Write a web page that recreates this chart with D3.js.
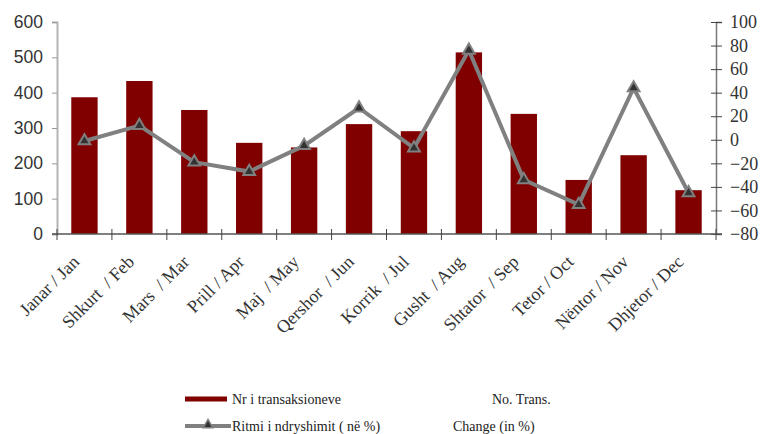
<!DOCTYPE html>
<html lang="sq">
<head>
<meta charset="UTF-8">
<title>Transaksione</title>
<style>
  body { margin: 0; background: #fff; }
  svg { display: block; }
</style>
</head>
<body>
<svg width="760" height="434"></svg>
<script src="https://d3js.org/d3.v7.min.js"></script>
<script>
// muajt
var months = ["Janar / Jan", "Shkurt  / Feb", "Mars  / Mar", "Prill / Apr", "Maj  / May", "Qershor  / Jun",
              "Korrik  / Jul", "Gusht  / Aug", "Shtator  / Sep", "Tetor / Oct", "Nëntor / Nov", "Dhjetor / Dec"];
// numri i transaksioneve
var trans = [387, 433, 351, 258, 245, 311, 291, 514, 340, 153, 223, 124];
// ritmi i ndryshimit (%)
var change = [-1, 12, -19, -27, -5, 27, -7, 76, -34, -55, 44, -45];

var leftTicks = [0, 100, 200, 300, 400, 500, 600];
var rightTicks = [-80, -60, -40, -20, 0, 20, 40, 60, 80, 100];

var svg = d3.select("svg");
var pLeft = 57, pRight = 716, pTop = 22, pBottom = 234;

var x = d3.scaleBand().domain(months).range([pLeft, pRight]).padding(0);
var yL = d3.scaleLinear().domain([0, 600]).range([pBottom, pTop]);
var yR = d3.scaleLinear().domain([-80, 100]).range([pBottom, pTop]);

// bars
var bw = x.bandwidth() * 0.48;
svg.append("g").selectAll("rect")
  .data(trans)
  .enter().append("rect")
  .attr("x", function(d, i) { return x(months[i]) + x.bandwidth() / 2 - bw / 2; })
  .attr("y", function(d) { return yL(d); })
  .attr("width", bw)
  .attr("height", function(d) { return yL(0) - yL(d); })
  .attr("fill", "#800000");

// left axis
var gl = svg.append("g")
  .attr("transform", "translate(" + pLeft + ",0)")
  .call(d3.axisLeft(yL).tickValues(leftTicks).tickSize(5).tickPadding(9));
gl.select(".domain").attr("stroke", "#b4b4b4").attr("stroke-width", 2);
gl.selectAll(".tick line").attr("stroke", "#999");
gl.selectAll(".tick text")
  .attr("fill", "#333")
  .style("font-family", "'Liberation Sans', Arial, sans-serif")
  .style("font-size", "17.5px");

// right axis
var gr = svg.append("g")
  .attr("transform", "translate(" + pRight + ",0)")
  .call(d3.axisRight(yR).tickValues(rightTicks).tickSize(6).tickPadding(8));
gr.select(".domain").attr("stroke", "#777").attr("stroke-width", 1.5);
gr.selectAll(".tick line").attr("stroke", "#444").attr("x1", -5);
gr.selectAll(".tick text")
  .attr("fill", "#333")
  .style("font-family", "'Liberation Serif', 'Times New Roman', serif")
  .style("font-size", "18px");

// bottom axis
var gb = svg.append("g");
gb.append("line")
  .attr("x1", pLeft - 5).attr("x2", pRight + 6)
  .attr("y1", pBottom).attr("y2", pBottom)
  .attr("stroke", "#555").attr("stroke-width", 1.5);
var edges = months.map(function(m) { return x(m); }).concat([pRight]);
gb.selectAll(".xt")
  .data(edges)
  .enter().append("line")
  .attr("x1", function(d) { return d; }).attr("x2", function(d) { return d; })
  .attr("y1", pBottom - 5).attr("y2", pBottom + 6)
  .attr("stroke", "#444").attr("stroke-width", 1);

gb.selectAll("text")
  .data(months)
  .enter().append("text")
  .attr("transform", function(d) {
    return "translate(" + (x(d) + x.bandwidth() / 2 - 4) + "," + 263 + ") rotate(-45)";
  })
  .attr("text-anchor", "end")
  .attr("fill", "#333")
  .style("font-family", "'Liberation Serif', 'Times New Roman', serif")
  .style("font-size", "18px")
  .style("white-space", "pre")
  .text(function(d) { return d; });

// line
var line = d3.line()
  .x(function(d, i) { return x(months[i]) + x.bandwidth() / 2; })
  .y(function(d) { return yR(d); });
svg.append("path")
  .datum(change)
  .attr("d", line)
  .attr("fill", "none")
  .attr("stroke", "#808080")
  .attr("stroke-width", 4)
  .attr("stroke-linejoin", "miter");

var tri = d3.symbol().type(d3.symbolTriangle).size(60);
svg.append("g").selectAll("path")
  .data(change)
  .enter().append("path")
  .attr("d", tri)
  .attr("transform", function(d, i) {
    return "translate(" + (x(months[i]) + x.bandwidth() / 2) + "," + yR(d) + ")";
  })
  .attr("fill", "#333")
  .attr("stroke", "#808080")
  .attr("stroke-width", 2);

// legend
var lg = svg.append("g")
  .style("font-family", "'Liberation Serif', 'Times New Roman', serif")
  .style("font-size", "14px")
  .attr("fill", "#222");
lg.append("line")
  .attr("x1", 185).attr("x2", 227).attr("y1", 399).attr("y2", 399)
  .attr("stroke", "#800000").attr("stroke-width", 5);
lg.append("text").attr("x", 232).attr("y", 404).text("Nr i transaksioneve");
lg.append("text").attr("x", 492).attr("y", 404).text("No. Trans.");

lg.append("line")
  .attr("x1", 185).attr("x2", 231).attr("y1", 426).attr("y2", 426)
  .attr("stroke", "#808080").attr("stroke-width", 4);
lg.append("path")
  .attr("d", d3.symbol().type(d3.symbolTriangle).size(40))
  .attr("transform", "translate(208,425)")
  .attr("fill", "#333").attr("stroke", "#808080").attr("stroke-width", 1.5);
lg.append("text").attr("x", 232).attr("y", 431).text("Ritmi i ndryshimit ( në %)");
lg.append("text").attr("x", 453).attr("y", 431).text("Change (in %)");
</script>
</body>
</html>
